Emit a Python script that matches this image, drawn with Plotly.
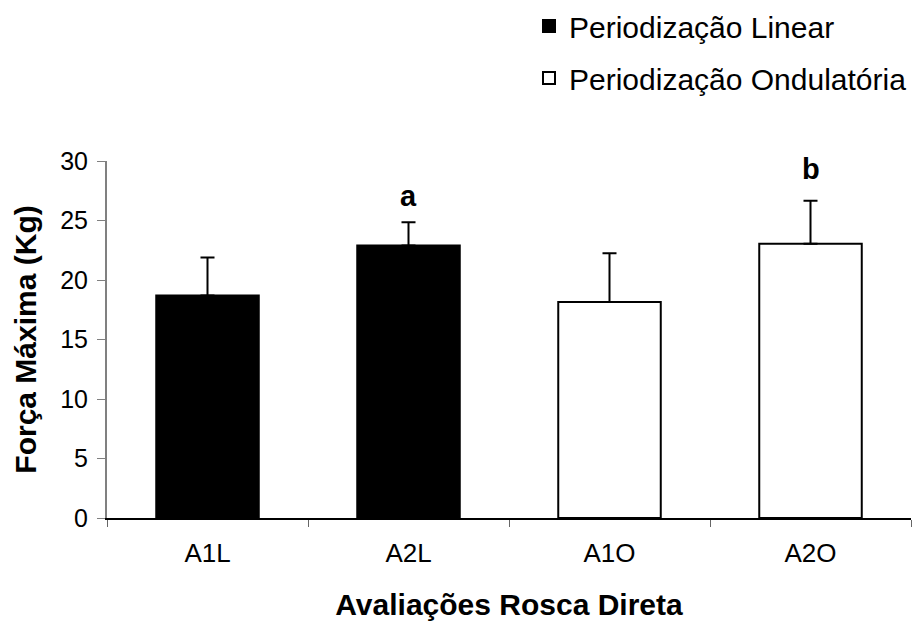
import plotly.graph_objects as go

categories = ["A1L", "A2L", "A1O", "A2O"]
linear_cats = ["A1L", "A2L"]
linear_vals = [18.7, 22.9]
linear_err = [3.2, 1.95]
ond_cats = ["A1O", "A2O"]
ond_vals = [18.15, 23.05]
ond_err = [4.1, 3.6]
sig_cats = ["A2L", "A2O"]
sig_labels = ["a", "b"]
sig_y = [27.1, 29.3]
y_ticks = [0, 5, 10, 15, 20, 25, 30]

FONT = "Arial, 'Liberation Sans', sans-serif"
# page body adds an 8px offset; figure is sized to compensate
W, H = 916, 613
ML, MR, MT, MB = 99, 13, 153, 103
PW, PH = W - ML - MR, H - MT - MB

fig = go.Figure()
fig.add_trace(go.Bar(
    x=linear_cats, y=linear_vals, name="Periodização Linear",
    marker=dict(color="black", line=dict(color="black", width=2)),
    error_y=dict(type="data", array=linear_err, arrayminus=[0, 0], symmetric=False,
                 color="black", thickness=2, width=7),
    legendgroup="l",
))
fig.add_trace(go.Bar(
    x=ond_cats, y=ond_vals, name="Periodização Ondulatória",
    marker=dict(color="white", line=dict(color="black", width=2)),
    error_y=dict(type="data", array=ond_err, arrayminus=[0, 0], symmetric=False,
                 color="black", thickness=2, width=7),
    legendgroup="o",
))

for c, t, yv in zip(sig_cats, sig_labels, sig_y):
    fig.add_annotation(x=c, y=yv, text="<b>" + t + "</b>", showarrow=False,
                       font=dict(family=FONT, size=29, color="black"),
                       xanchor="center", yanchor="middle")

fig.update_layout(
    width=W, height=H,
    margin=dict(l=ML, r=MR, t=MT, b=MB, pad=0, autoexpand=False),
    paper_bgcolor="white", plot_bgcolor="white",
    barmode="overlay", bargap=0.49,
    font=dict(family=FONT, size=20, color="black"),
    showlegend=True,
    legend=dict(x=(521 - ML) / PW, y=1 + (MT + 8) / PH,
                xanchor="left", yanchor="top",
                font=dict(family=FONT, size=30, color="black"),
                traceorder="grouped", tracegroupgap=10,
                bgcolor="rgba(0,0,0,0)"),
    xaxis=dict(categoryorder="array", categoryarray=categories,
               tickmode="array", tickvals=categories, ticktext=categories,
               showline=True, linecolor="black", linewidth=2,
               ticks="outside", tickson="boundaries", ticklen=7, tickcolor="#666666",
               ticklabelstandoff=11, automargin=False,
               tickfont=dict(family=FONT, size=26, color="black"),
               showgrid=False, zeroline=False,
               title=dict(text="<b>Avaliações Rosca Direta</b>", standoff=28,
                          font=dict(family=FONT, size=30, color="black"))),
    yaxis=dict(range=[0, 30], tickmode="array", tickvals=y_ticks,
               showline=True, linecolor="#808080", linewidth=2,
               ticks="outside", ticklen=8, tickcolor="#808080",
               ticklabelstandoff=4, automargin=False,
               tickfont=dict(family=FONT, size=25, color="black"),
               showgrid=False, zeroline=False,
               title=dict(text="<b>Força Máxima (Kg)</b>", standoff=15,
                          font=dict(family=FONT, size=30, color="black"))),
)

fig.write_html("out.html")
